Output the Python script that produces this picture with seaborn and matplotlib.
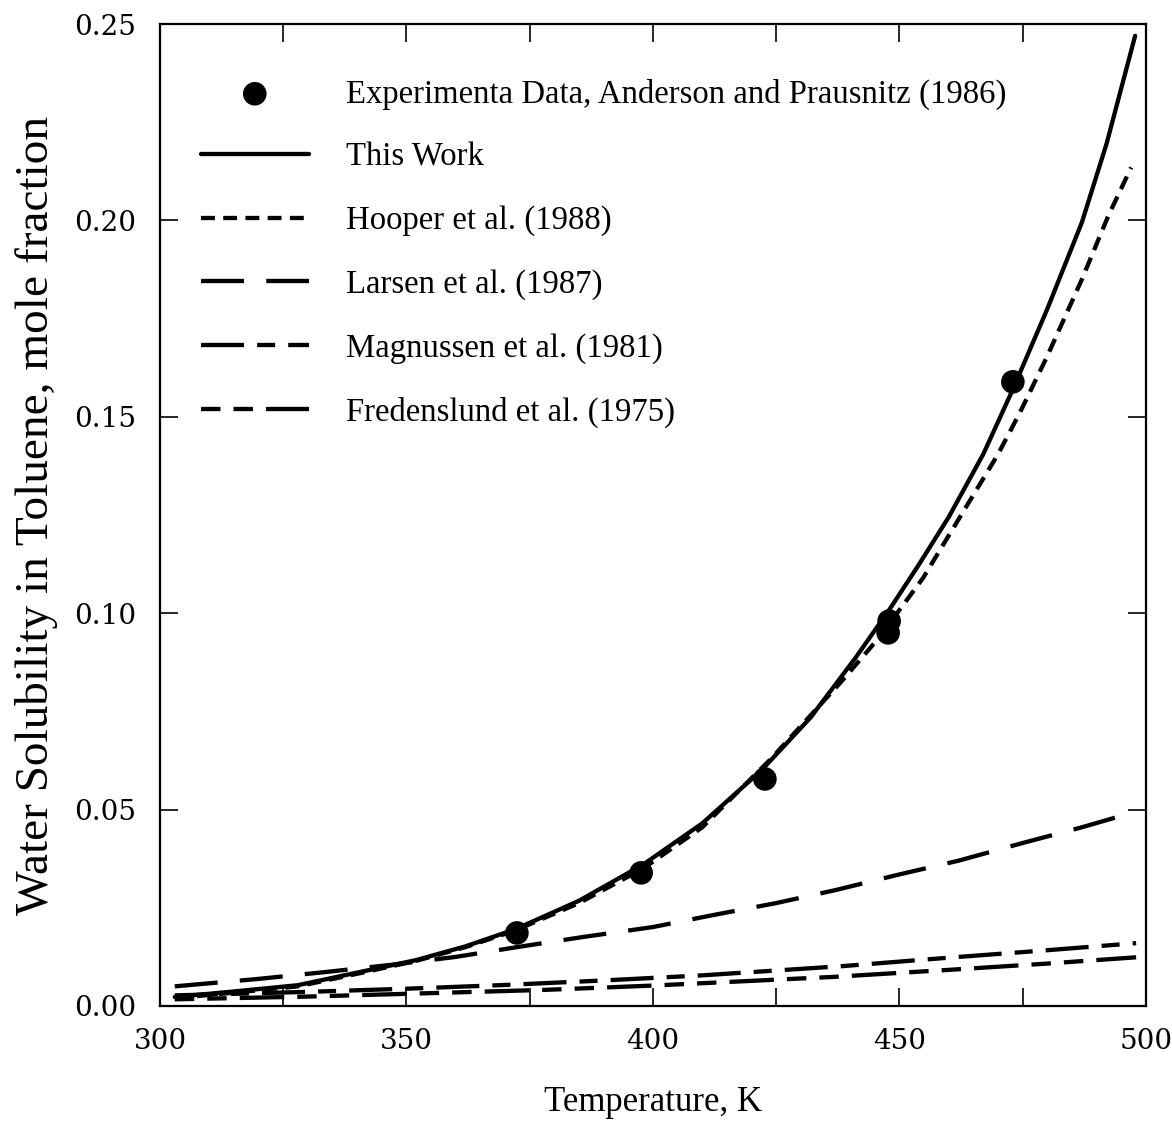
import matplotlib
matplotlib.use("Agg")
import matplotlib.pyplot as plt
import seaborn as sns
from matplotlib.ticker import MultipleLocator

# ---------------- data ----------------
exp_T = [372.4, 397.6, 422.7, 447.7, 447.9, 473.0]
exp_x = [0.0186, 0.0339, 0.0578, 0.0950, 0.0980, 0.1589]

work_T = [303, 315, 328, 340, 352, 362, 372, 385, 398, 410, 422, 432, 441, 448,
          454, 460, 467, 473, 480, 487, 492, 497.8]
work_x = [0.0023, 0.0037, 0.0053, 0.0085, 0.0117, 0.0152, 0.0195, 0.0268, 0.0360,
          0.0465, 0.0600, 0.0735, 0.0885, 0.1010, 0.1125, 0.1245, 0.1405, 0.1570,
          0.1775, 0.1995, 0.2195, 0.2470]

hooper_T = [303, 315, 328, 340, 352, 362, 372, 385, 398, 410, 424, 438.5, 446,
            454.8, 463, 470, 474.4, 480, 487, 492.3, 497.0]
hooper_x = [0.0020, 0.0034, 0.0050, 0.0082, 0.0115, 0.0150, 0.0192, 0.0262, 0.0350,
            0.0455, 0.0630, 0.0830, 0.0940, 0.1090, 0.1260, 0.1405, 0.1510, 0.1655,
            0.1850, 0.2010, 0.2135]

larsen_T = [303, 312, 320, 334, 347, 360, 373, 386, 400, 412, 425, 437, 450, 462,
            475, 487, 498]
larsen_x = [0.0050, 0.0060, 0.0069, 0.0087, 0.0105, 0.0125, 0.0151, 0.0176, 0.0201,
            0.0231, 0.0262, 0.0295, 0.0335, 0.0370, 0.0415, 0.0455, 0.0495]

magn_T = [303, 330, 350, 369, 390, 410, 439, 460, 480, 498]
magn_x = [0.0027, 0.0036, 0.0044, 0.0053, 0.0065, 0.0078, 0.0102, 0.0123, 0.0142, 0.0160]

fred_T = [303, 330, 350, 378, 400, 420, 436.5, 460, 480, 498]
fred_x = [0.0017, 0.0024, 0.0031, 0.0041, 0.0052, 0.0064, 0.0074, 0.0092, 0.0108, 0.0124]

labels = ["Experimenta Data, Anderson and Prausnitz (1986)", "This Work",
          "Hooper et al. (1988)", "Larsen et al. (1987)",
          "Magnussen et al. (1981)", "Fredenslund et al. (1975)"]

x_ticks = [300, 350, 400, 450, 500]
y_ticks = [0.00, 0.05, 0.10, 0.15, 0.20, 0.25]

# ---------------- style ----------------
sns.set_theme(style="ticks")
plt.rcParams["font.family"] = ["Liberation Serif", "DejaVu Serif"]
plt.rcParams["lines.scale_dashes"] = False

fig = plt.figure(figsize=(11.72, 11.33), dpi=100)
ax = fig.add_axes([0.1365, 0.1121, 0.8413, 0.8667])

lw = 3.1
sns.scatterplot(x=exp_T, y=exp_x, ax=ax, color="black", s=289, marker="o",
                edgecolor="none", label=labels[0], zorder=5)
sns.lineplot(x=work_T, y=work_x, ax=ax, color="black", linewidth=lw,
             linestyle="-", label=labels[1])
sns.lineplot(x=hooper_T, y=hooper_x, ax=ax, color="black", linewidth=lw,
             linestyle=(0, (10, 6)), label=labels[2])
sns.lineplot(x=larsen_T, y=larsen_x, ax=ax, color="black", linewidth=lw,
             linestyle=(0, (31, 16)), label=labels[3])
sns.lineplot(x=magn_T, y=magn_x, ax=ax, color="black", linewidth=lw,
             linestyle=(0, (31, 9.4, 13, 9.4)), label=labels[4])
sns.lineplot(x=fred_T, y=fred_x, ax=ax, color="black", linewidth=lw,
             linestyle=(0, (14, 9.4, 14, 9.4, 32, 9.4)), label=labels[5])

ax.set_xlim(300, 500)
ax.set_ylim(0, 0.25)
ax.set_xticks(x_ticks)
ax.set_xticklabels([str(t) for t in x_ticks])
ax.xaxis.set_minor_locator(MultipleLocator(25))
ax.set_yticks(y_ticks)
ax.set_yticklabels([f"{t:.2f}" for t in y_ticks])

for lab in ax.get_xticklabels() + ax.get_yticklabels():
    lab.set_fontfamily("DejaVu Serif")
    lab.set_fontsize(20)
    lab.set_color("black")

ax.tick_params(axis="both", which="both", direction="in", top=True, right=True,
               length=13, width=1.2, color="black")
ax.tick_params(axis="x", which="major", pad=16)
ax.tick_params(axis="y", which="major", pad=17)

for sp in ax.spines.values():
    sp.set_linewidth(1.6)
    sp.set_color("black")
    sp.set_visible(True)

ax.set_xlabel("Temperature, K", fontsize=25, labelpad=22, color="black")
ax.set_ylabel("Water Solubility in Toluene, mole fraction", fontsize=34,
              labelpad=12, color="black")

leg = ax.legend(loc="upper left", bbox_to_anchor=(0.028, 0.958), frameon=False,
                fontsize=23.6, handlelength=3.3, handletextpad=1.14,
                labelspacing=1.0, borderaxespad=0, scatterpoints=1)
for t in leg.get_texts():
    t.set_color("black")

fig.savefig("out.png", dpi=100, facecolor="white")
